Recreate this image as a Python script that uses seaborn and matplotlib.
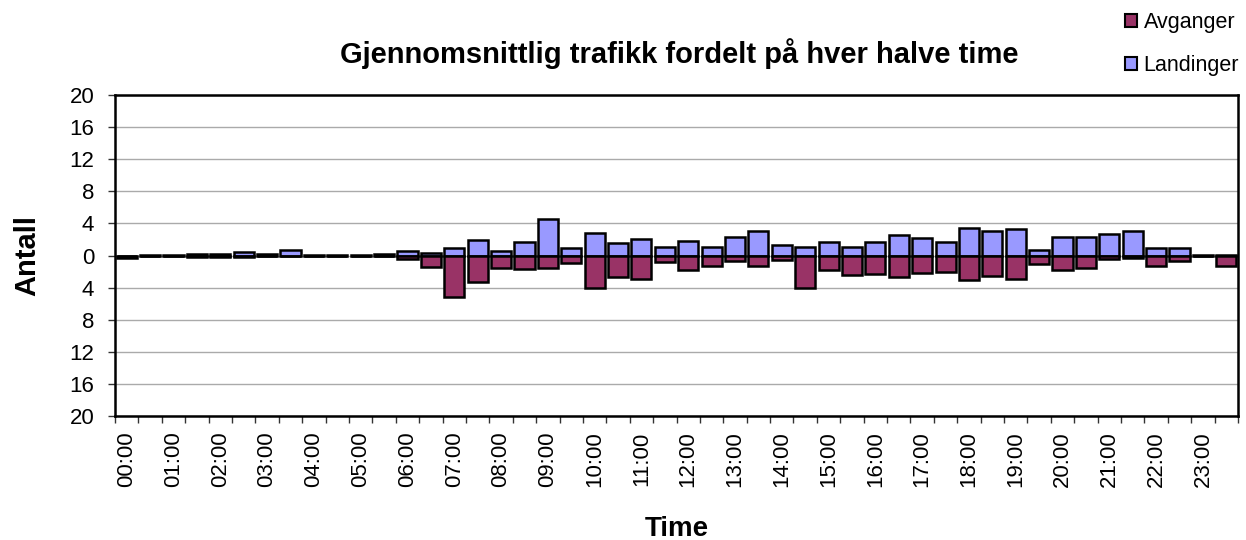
import numpy as np
import pandas as pd
import seaborn as sns
import matplotlib
matplotlib.use("Agg")
import matplotlib.pyplot as plt
from matplotlib.patches import Patch

# =========================
# Data (average per half hour)
# =========================
slots = [f"{h:02d}:{m:02d}" for h in range(24) for m in (0, 30)]

landinger = [
    0.0, 0.1, 0.1, 0.15, 0.15, 0.5, 0.2, 0.7, 0.1, 0.1, 0.1, 0.15,
    0.6, 0.3, 1.0, 1.9, 0.6, 1.7, 4.5, 1.0, 2.8, 1.5, 2.1, 1.1,
    1.8, 1.1, 2.3, 3.0, 1.3, 1.1, 1.7, 1.1, 1.7, 2.6, 2.2, 1.7,
    3.4, 3.1, 3.3, 0.7, 2.3, 2.3, 2.7, 3.0, 1.0, 0.9, 0.1, 0.1,
]
avganger = [
    0.3, 0.1, 0.1, 0.15, 0.15, 0.15, 0.1, 0.1, 0.1, 0.1, 0.1, 0.1,
    0.4, 1.4, 5.2, 3.25, 1.6, 1.7, 1.5, 0.9, 4.0, 2.7, 2.9, 0.8,
    1.8, 1.25, 0.7, 1.3, 0.5, 4.0, 1.75, 2.4, 2.3, 2.7, 2.2, 2.1,
    3.0, 2.6, 2.9, 1.0, 1.8, 1.5, 0.4, 0.3, 1.3, 0.7, 0.1, 1.25,
]

y_ticks = [-20, -16, -12, -8, -4, 0, 4, 8, 12, 16, 20]

df = pd.DataFrame({
    "slot": slots,
    "Landinger": landinger,
    "Avganger": [-v for v in avganger],
})

col_land = "#9999FF"
col_avg = "#993366"

# =========================
# Plot
# =========================
sns.set_style("white")
plt.rcParams["font.family"] = ["Liberation Sans", "DejaVu Sans"]
plt.rcParams["text.color"] = "black"
plt.rcParams["axes.labelcolor"] = "black"
plt.rcParams["xtick.color"] = "black"
plt.rcParams["ytick.color"] = "black"

fig = plt.figure(figsize=(12.46, 5.4), dpi=100)
ax = fig.add_axes([0.0923, 0.2296, 0.9013, 0.5944])

bar_kw = dict(width=0.86, edgecolor="black", linewidth=1.8, ax=ax, order=slots)
sns.barplot(data=df, x="slot", y="Landinger", color=col_land, saturation=1, **bar_kw)
sns.barplot(data=df, x="slot", y="Avganger", color=col_avg, saturation=1, **bar_kw)

ax.set_xlim(-0.5, len(slots) - 0.5)
ax.set_ylim(-20, 20)

ax.set_yticks(y_ticks)
ax.set_yticklabels([str(abs(t)) for t in y_ticks], fontsize=16)
ax.yaxis.grid(True, color="#aaaaaa", linewidth=1)
ax.set_axisbelow(True)

ax.set_xticks(range(0, len(slots), 2))
ax.set_xticklabels(slots[::2], rotation=90, fontsize=16)
ax.set_xticks(np.arange(-0.5, len(slots), 1), minor=True)
ax.tick_params(axis="x", which="major", length=0, pad=11)
ax.tick_params(axis="x", which="minor", length=5, width=1, color="#333333", bottom=True)
ax.tick_params(axis="y", length=5, width=1, color="#333333", left=True, pad=10)

for s in ax.spines.values():
    s.set_visible(True)
    s.set_color("black")
    s.set_linewidth(1.8)

ax.set_xlabel("Time", fontsize=20, fontweight="bold", labelpad=21)
ax.set_ylabel("Antall", fontsize=21, fontweight="bold", labelpad=20)
fig.text(0.545, 0.9, "Gjennomsnittlig trafikk fordelt på hver halve time",
         ha="center", va="center", fontsize=21, fontweight="bold")

handles = [
    Patch(facecolor=col_avg, edgecolor="black", linewidth=1.5, label="Avganger"),
    Patch(facecolor=col_land, edgecolor="black", linewidth=1.5, label="Landinger"),
]
fig.legend(handles=handles, loc="upper right", bbox_to_anchor=(1.004, 1.0),
           frameon=False, fontsize=15.5, handlelength=0.55, handleheight=0.55,
           handletextpad=0.3, labelspacing=1.05, borderaxespad=0.15)

fig.savefig("out.png", dpi=100)
